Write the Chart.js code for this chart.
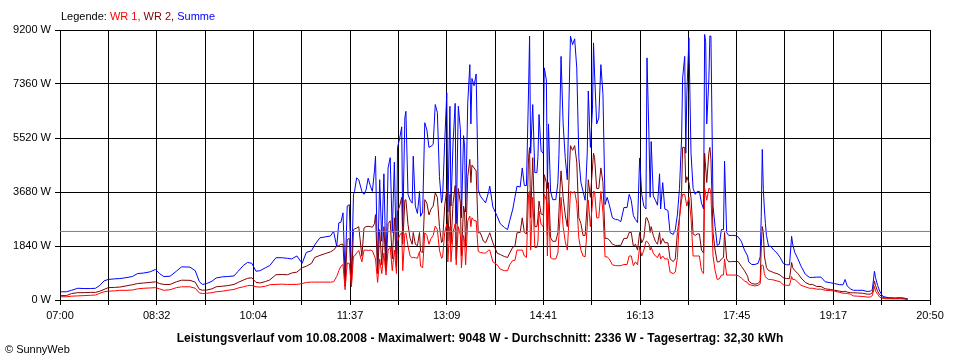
<!DOCTYPE html>
<html lang="de">
<head>
<meta charset="UTF-8">
<title>Leistungsverlauf 10.08.2008</title>
<script src="https://cdn.jsdelivr.net/npm/chart.js"></script>
<style>
    body { margin: 0; background: #fff; }
    .wrap { position: relative; width: 960px; height: 360px; font-family: "Liberation Sans", Arial, sans-serif; }
    .legende { position: absolute; left: 61px; top: 10px; font-size: 11px; line-height: 13px; color: #000; white-space: nowrap; }
    .titel { position: absolute; left: 0; width: 960px; top: 331px; text-align: center; font-size: 12px; font-weight: bold; line-height: 14px; letter-spacing: 0.1px; white-space: nowrap; }
    .copy { position: absolute; left: 5px; top: 343px; font-size: 11px; line-height: 13px; white-space: nowrap; }
</style>
</head>
<body>
<div class="wrap">
    <canvas id="verlauf" width="960" height="360"></canvas>
    <div class="legende">Legende: <span style="color:#ff0000">WR 1,</span> <span style="color:#800000">WR 2,</span> <span style="color:#0000ff">Summe</span></div>
    <div class="titel">Leistungsverlauf vom 10.08.2008 - Maximalwert: 9048 W - Durchschnitt: 2336 W - Tagesertrag: 32,30 kWh</div>
    <div class="copy">&copy; SunnyWeb</div>
</div>

<script>
// Minuten ab 07:00
const zeiten = [
    1, 6, 11, 17, 23, 29, 34, 38, 42, 46,
    52, 57, 63, 69, 74, 80, 86, 91, 95, 99,
    105, 111, 116, 124, 129, 133, 136, 140, 145, 149,
    155, 160, 166, 170, 175, 179, 183, 187, 191, 196,
    200, 206, 212, 217, 221, 226, 231, 235, 240, 243,
    248, 253, 258, 261, 264, 266, 268, 270, 272, 274,
    276, 278, 280, 281, 283, 285, 288, 290, 292, 294,
    296, 298, 300, 301, 303, 305, 307, 309, 311, 313,
    315, 317, 319, 321, 322, 324, 326, 327, 329, 330,
    332, 334, 336, 337, 339, 341, 343, 344, 346, 348,
    350, 352, 354, 356, 358, 360, 362, 364, 365, 367,
    369, 370, 372, 373, 375, 377, 378, 380, 382, 383,
    385, 386, 387, 389, 391, 392, 393, 395, 397, 399,
    401, 404, 406, 409, 410, 413, 417, 420, 424, 427,
    429, 432, 434, 436, 439, 441, 443, 445, 447, 448,
    449, 451, 453, 455, 456, 457, 459, 461, 462, 464,
    465, 466, 468, 470, 473, 475, 476, 477, 478, 480,
    482, 484, 486, 487, 489, 491, 493, 495, 497, 499,
    501, 503, 504, 506, 508, 509, 510, 512, 514, 516,
    518, 520, 522, 524, 527, 530, 532, 535, 538, 541,
    543, 545, 547, 549, 551, 553, 555, 557, 559, 560,
    562, 563, 564, 566, 568, 570, 572, 573, 575, 577,
    580, 582, 585, 587, 589, 591, 593, 594, 596, 597,
    598, 600, 602, 604, 606, 608, 610, 612, 614, 615,
    616, 617, 619, 620, 621, 623, 625, 627, 629, 631,
    633, 634, 636, 638, 641, 644, 647, 650, 653, 656,
    657, 660, 663, 666, 668, 669, 670, 671, 672, 673,
    674, 676, 678, 681, 684, 687, 690, 693, 696, 698,
    699, 701, 704, 707, 711, 715, 718, 722, 726, 730,
    735, 739, 744, 747, 749, 751, 754, 757, 761, 766,
    770, 773, 775, 777, 778, 780, 782, 785, 790, 797,
    802, 806, 809
];

const summe = [
    280, 280, 330, 400, 390, 390, 400, 500, 650, 700,
    720, 730, 760, 800, 900, 920, 960, 1040, 900, 800,
    810, 980, 1130, 1120, 1000, 620, 530, 560, 640, 750,
    790, 800, 820, 980, 1180, 1280, 1250, 980, 1000, 1100,
    1170, 1440, 1440, 1420, 1400, 1500, 1250, 1620, 1680, 1880,
    2120, 2150, 2180, 2340, 1820, 2630, 2650, 2970, 810, 3200,
    3250, 700, 3600, 3700, 4160, 4100, 3700, 3600, 3750, 4150,
    3900, 3700, 4400, 4900, 1000, 4100, 2000, 4300, 1100, 4500,
    4850, 2300, 4700, 1200, 5200, 5500, 5900, 2500, 6200, 6430,
    3600, 3400, 3300, 4900, 3200, 2950, 3700, 2850, 3000, 6040,
    5800, 5200, 5240, 5300, 6660, 6390, 4200, 3310, 3500, 5360,
    7060, 3000, 6600, 3200, 5360, 6700, 2600, 6600, 5800, 2800,
    5600, 5250, 3000, 6720, 8020, 6000, 7550, 7300, 7700, 3760,
    3540, 3400, 3310, 3700, 3880, 3170, 2860, 2600, 2470, 2400,
    2700, 3100, 3500, 3880, 3850, 4500, 3900, 3900, 7120, 8990,
    5000, 6660, 4340, 4340, 4900, 6320, 5070, 5000, 7910, 7500,
    3800, 6000, 3710, 3420, 3420, 4000, 4950, 6500, 8300, 6000,
    4850, 4100, 7460, 8990, 8700, 8900, 7910, 4850, 4000, 3700,
    3400, 5000, 7120, 5200, 6500, 8760, 7700, 6000, 6200, 8020,
    7000, 3250, 3500, 3250, 2800, 2740, 2740, 2670, 3150, 3150,
    3600, 3400, 2880, 2740, 2640, 4840, 3600, 3200, 3100, 8250,
    5410, 3500, 5400, 3550, 3400, 3230, 4300, 3100, 4000, 3100,
    3050, 2300, 2230, 2400, 2900, 3800, 5500, 7570, 8300, 5000,
    7000, 8930, 5000, 3800, 3600, 3700, 3700, 3300, 3100, 9048,
    8800, 6000, 7500, 9000, 8990, 3200, 2500, 1860, 1900, 2400,
    2400, 4730, 2300, 2200, 2200, 2200, 2150, 2000, 1700, 1500,
    1300, 1210, 1210, 1250, 1470, 2860, 5130, 3760, 3100, 2600,
    2200, 1830, 1830, 1700, 1600, 1450, 1250, 1200, 1200, 2170,
    1900, 1620, 1400, 1150, 880, 770, 770, 780, 780, 620,
    590, 560, 520, 520, 700, 480, 380, 330, 330, 330,
    290, 300, 360, 980, 770, 500, 300, 120, 80, 70,
    80, 60, 30
];

const wr2 = [
    150, 150, 220, 250, 250, 260, 260, 300, 360, 420,
    430, 440, 480, 520, 560, 580, 600, 620, 560, 530,
    530, 620, 675, 670, 610, 360, 335, 340, 380, 450,
    470, 490, 530, 600, 680, 740, 755, 600, 580, 630,
    680, 860, 870, 860, 920, 950, 1100, 1150, 1250, 1450,
    1520, 1580, 1640, 1700, 1830, 1850, 1900, 1900, 470, 2060,
    2100, 500, 2400, 2420, 2450, 2500, 1490, 2450, 2500, 2510,
    2500, 2480, 2600, 2910, 900, 2400, 1200, 2500, 1000, 2600,
    2700, 1400, 2800, 1100, 3000, 3200, 3500, 1900, 3400, 3420,
    2570, 2100, 1900, 2300, 1900, 1850, 2300, 1650, 1620, 3420,
    3300, 2900, 3100, 3200, 3650, 3500, 2500, 1960, 2000, 3200,
    3780, 2000, 3600, 1900, 3300, 3900, 1380, 3800, 3300, 1500,
    3200, 3000, 1800, 4200, 4790, 4000, 4600, 4500, 4400, 2290,
    2290, 2000, 1950, 2200, 2290, 1950, 1600, 1550, 1480, 1450,
    1600, 1800, 1830, 2290, 2300, 2800, 2300, 2250, 4850, 5200,
    2800, 4850, 2500, 2500, 2800, 3370, 2930, 2900, 4270, 4000,
    2200, 4000, 2130, 2000, 2000, 2300, 3000, 3800, 4400, 3500,
    2900, 2500, 4500, 5260, 5100, 5260, 4700, 2800, 2600, 2200,
    2200, 3300, 4100, 3500, 4500, 5000, 4850, 3800, 3800, 4500,
    4000, 2100, 2100, 2050, 1900, 1860, 1860, 1860, 2100, 2100,
    2300, 2300, 1830, 1900, 1700, 2300, 1950, 2100, 2800, 2800,
    2600, 2300, 2500, 2200, 2000, 1900, 2300, 1900, 2100, 1950,
    1950, 1400, 1310, 1400, 2300, 2800, 3700, 5200, 5200, 4000,
    4200, 4000, 3500, 2250, 2200, 2250, 2250, 1700, 1600, 5000,
    4500, 4000, 5000, 5200, 4800, 2300, 1700, 1300, 1300, 1400,
    1450, 2300, 1400, 1300, 1310, 1310, 1310, 1150, 1000, 810,
    650, 560, 540, 560, 650, 1830, 2500, 2300, 1500, 1300,
    1100, 1000, 980, 930, 900, 850, 760, 730, 730, 1280,
    1100, 1000, 900, 750, 600, 530, 530, 460, 460, 380,
    360, 330, 300, 280, 300, 270, 250, 245, 240, 230,
    200, 200, 250, 650, 500, 300, 180, 80, 60, 55,
    60, 45, 20
];

const wr1 = [
    110, 110, 130, 140, 150, 160, 170, 230, 280, 300,
    310, 330, 330, 340, 380, 400, 410, 420, 380, 330,
    350, 420, 450, 450, 400, 240, 220, 230, 250, 280,
    300, 330, 360, 410, 450, 490, 495, 450, 440, 470,
    520, 530, 540, 530, 530, 530, 560, 600, 610, 610,
    610, 610, 610, 620, 800, 1000, 1150, 1210, 350, 1260,
    1250, 450, 1490, 1500, 1600, 1690, 1300, 1700, 1700, 1690,
    1700, 1680, 1500, 1400, 600, 1400, 900, 1600, 850, 1700,
    1800, 1000, 1700, 900, 2000, 2200, 2300, 1000, 2250, 2290,
    1830, 1500, 1440, 1450, 1440, 1420, 1650, 1150, 1100, 2290,
    2200, 1900, 2100, 2200, 2520, 2400, 1700, 1420, 1450, 2300,
    2590, 1300, 2500, 1300, 2300, 2600, 1200, 2500, 2200, 1100,
    2200, 2000, 1200, 2700, 2860, 2500, 2800, 2700, 2700, 1660,
    1620, 1600, 1600, 1700, 1700, 1300, 1200, 1050, 1000, 1000,
    1200, 1350, 1350, 1700, 1700, 1700, 1500, 1450, 3600, 3700,
    1700, 3500, 1790, 1790, 2000, 3030, 2570, 2500, 3600, 3400,
    1500, 3300, 1440, 1400, 1400, 1600, 2200, 2800, 3500, 2500,
    2000, 1700, 3000, 3700, 3650, 3700, 3300, 2100, 1700, 1500,
    1470, 2500, 3400, 2500, 3300, 3700, 3700, 2800, 2800, 3700,
    3000, 1470, 1470, 1400, 1200, 1170, 1170, 1170, 1210, 1210,
    1500, 1500, 1170, 1300, 1200, 1800, 1500, 1700, 2000, 2000,
    1900, 1700, 1800, 1600, 1500, 1450, 1600, 1400, 1500, 1400,
    1400, 950, 900, 950, 1440, 2800, 3400, 3600, 3600, 3400,
    3200, 3500, 2800, 1500, 1500, 1500, 1500, 1000, 900, 3800,
    3600, 3400, 3800, 3800, 3600, 1500, 1000, 700, 720, 850,
    850, 1400, 850, 850, 850, 850, 830, 750, 650, 590,
    530, 500, 480, 500, 550, 1150, 1200, 1150, 900, 800,
    750, 700, 700, 680, 650, 620, 520, 500, 500, 800,
    700, 700, 600, 500, 450, 400, 400, 370, 370, 330,
    320, 300, 260, 230, 230, 220, 200, 140, 130, 120,
    100, 100, 150, 460, 300, 200, 100, 50, 40, 40,
    40, 30, 10
];

const xTickLabels = ['07:00', '08:32', '10:04', '11:37', '13:09', '14:41', '16:13', '17:45', '19:17', '20:50'];
const yTickLabels = ['0 W', '1840 W', '3680 W', '5520 W', '7360 W', '9200 W'];
const durchschnitt = 2336;
const spanneMin = 830;   // 07:00 .. 20:50
const maxW = 9200;

function punkte(werte) {
    return zeiten.map((t, i) => ({ x: t, y: werte[i] }));
}

Chart.defaults.font.family = '"Liberation Sans", Arial, sans-serif';
Chart.defaults.font.size = 11;
Chart.defaults.color = '#000';

const ctx = document.getElementById('verlauf').getContext('2d');
new Chart(ctx, {
    type: 'line',
    data: {
        datasets: [
            {
                label: 'Durchschnitt',
                data: [{ x: 0, y: durchschnitt }, { x: spanneMin, y: durchschnitt }],
                borderColor: '#808080',
                borderWidth: 1
            },
            {
                label: 'WR 1',
                data: punkte(wr1),
                borderColor: '#ff0000',
                borderWidth: 1
            },
            {
                label: 'WR 2',
                data: punkte(wr2),
                borderColor: '#800000',
                borderWidth: 1
            },
            {
                label: 'Summe',
                data: punkte(summe),
                borderColor: '#0000ff',
                borderWidth: 1
            }
        ]
    },
    options: {
        responsive: false,
        devicePixelRatio: 1,
        animation: false,
        events: [],
        elements: {
            point: { radius: 0 },
            line: { tension: 0, fill: false }
        },
        layout: {
            padding: { left: 0, right: 30, top: 30, bottom: 40 }
        },
        plugins: {
            legend: { display: false },
            tooltip: { enabled: false }
        },
        scales: {
            x: {
                type: 'linear',
                min: 0,
                max: spanneMin,
                afterBuildTicks: function (scale) {
                    // 18 Rasterfelder, jede zweite Linie beschriftet
                    const n = (xTickLabels.length - 1) * 2;
                    scale.ticks = Array.from({ length: n + 1 }, (_, i) => ({ value: i * spanneMin / n }));
                },
                afterFit: function (scale) { scale.height = 20; },
                grid: { color: '#000', lineWidth: 1, tickLength: 5, drawTicks: true },
                border: { display: true, color: '#000', width: 1 },
                ticks: {
                    autoSkip: false,
                    maxRotation: 0,
                    padding: 4,
                    callback: function (value, index) {
                        return index % 2 === 0 ? xTickLabels[index / 2] : '';
                    }
                }
            },
            y: {
                min: 0,
                max: maxW,
                afterFit: function (scale) { scale.width = 60; },
                grid: { color: '#000', lineWidth: 1, tickLength: 5, drawTicks: true },
                border: { display: true, color: '#000', width: 1 },
                ticks: {
                    stepSize: maxW / (yTickLabels.length - 1),
                    padding: 4,
                    callback: function (value, index) {
                        return yTickLabels[index];
                    }
                }
            }
        }
    }
});
</script>
</body>
</html>
